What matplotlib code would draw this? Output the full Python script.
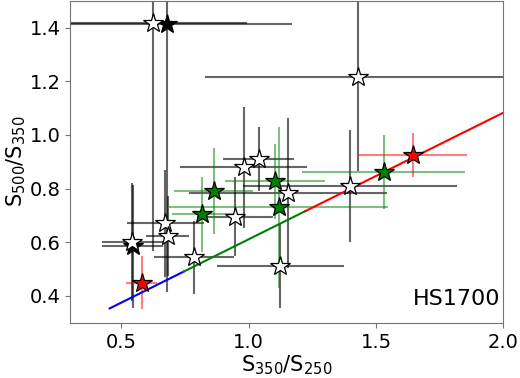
"""Colour-colour plot of HS1700 sources: S500/S350 against S350/S250."""

import matplotlib

matplotlib.use("Agg")
import matplotlib.pyplot as plt
import numpy as np


# open (white) stars
white_x = [0.543, 0.674, 0.683, 0.785, 0.946, 0.981, 1.040, 1.155, 1.125, 1.399, 1.429, 0.624]
white_y = [0.600, 0.671, 0.624, 0.544, 0.696, 0.880, 0.910, 0.785, 0.512, 0.810, 1.215, 1.418]
white_xerr = [0.12, 0.15, 0.085, 0.158, 0.15, 0.25, 0.14, 0.39, 0.25, 0.42, 0.60, 0.37]
white_yerr = [0.22, 0.20, 0.15, 0.135, 0.146, 0.225, 0.12, 0.28, 0.157, 0.21, 0.35, 0.85]

# filled black stars
black_x = [0.545, 0.680]
black_y = [0.585, 1.415]
black_xerr = [0.12, 0.49]
black_yerr = [0.23, 1.00]

# green stars
green_x = [0.863, 0.818, 1.105, 1.118, 1.530]
green_y = [0.792, 0.705, 0.827, 0.731, 0.862]
green_xerr = [0.154, 0.12, 0.196, 0.43, 0.32]
green_yerr = [0.16, 0.14, 0.14, 0.30, 0.137]

# red stars
red_x = [0.580, 1.644]
red_y = [0.450, 0.926]
red_xerr = [0.062, 0.213]
red_yerr = [0.10, 0.083]

# track line: (start, end) in S350/S250 for each colour segment
track_slope = 0.472
track_intercept = 0.139
track_segments = [("blue", 0.455, 0.745), ("green", 0.745, 1.223), ("red", 1.223, 2.0)]


def draw_group(ax, x, y, xerr, yerr, face, bar_color, bar_alpha):
    ax.errorbar(x, y, xerr=xerr, yerr=yerr, fmt="none", ecolor=bar_color,
                elinewidth=1.5, alpha=bar_alpha, zorder=2)
    ax.plot(x, y, linestyle="none", marker="*", markersize=15,
            markerfacecolor=face, markeredgecolor="black", markeredgewidth=0.9, zorder=4)


def main():
    fig = plt.figure(figsize=(5.2, 3.78), dpi=100)
    ax = fig.add_axes([0.135, 0.146, 0.833, 0.852])

    for color, x0, x1 in track_segments:
        xs = np.array([x0, x1])
        ax.plot(xs, track_slope * xs + track_intercept, color=color, linewidth=1.5, zorder=3)

    draw_group(ax, black_x, black_y, black_xerr, black_yerr, "black", "black", 0.6)
    draw_group(ax, white_x, white_y, white_xerr, white_yerr, "white", "black", 0.6)
    draw_group(ax, green_x, green_y, green_xerr, green_yerr, "green", "green", 0.5)
    draw_group(ax, red_x, red_y, red_xerr, red_yerr, "red", "red", 0.5)

    ax.set_xlim(0.3, 2.0)
    ax.set_ylim(0.3, 1.5)
    ax.set_xticks([0.5, 1.0, 1.5, 2.0])
    ax.set_yticks([0.4, 0.6, 0.8, 1.0, 1.2, 1.4])
    ax.tick_params(labelsize=14, color="0.45")
    for spine in ax.spines.values():
        spine.set_color("0.45")

    ax.set_xlabel(r"S$_{350}$/S$_{250}$", fontsize=15, labelpad=1)
    ax.set_ylabel(r"S$_{500}$/S$_{350}$", fontsize=15, labelpad=1)
    ax.text(0.993, 0.044, "HS1700", transform=ax.transAxes, ha="right", va="bottom", fontsize=16)

    fig.savefig("out.png", dpi=100)
    plt.close(fig)


if __name__ == "__main__":
    main()
